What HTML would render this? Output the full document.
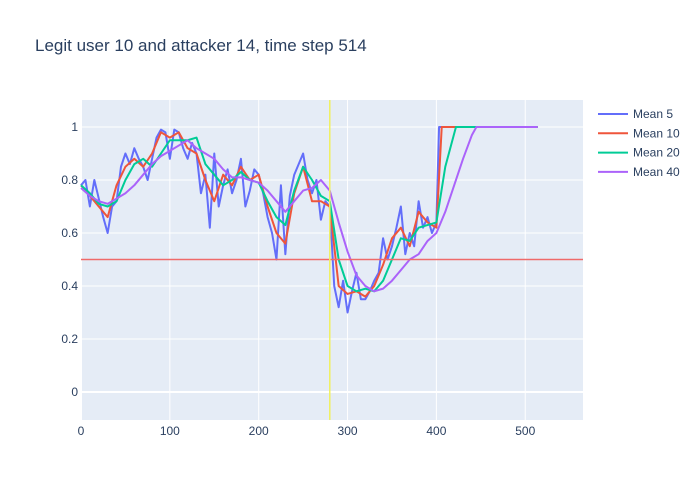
<!DOCTYPE html>
<html><head><meta charset="utf-8"><style>
body{margin:0;background:#fff;font-family:"Liberation Sans",sans-serif}
</style></head><body>
<svg id="chart" width="700" height="500" style="display:block">
<rect width="700" height="500" fill="#fff"/>
<text x="35" y="51" font-size="17" fill="#2a3f5f">Legit user 10 and attacker 14, time step 514</text>
<rect x="81" y="100" width="502" height="320" fill="#e5ecf6"/>
<g id="grid"></g><g id="series"></g><g id="axes"></g><g id="legend"></g>
</svg>
<script>
const xs5=[0,5,10,15,20,25,30,35,40,45,50,55,60,65,70,75,80,85,90,95,100,105,110,115,120,125,130,135,140,145,150,155,160,165,170,175,180,185,190,195,200,205,210,215,220,225,230,235,240,245,250,255,260,265,270,275,280,285,290,295,300,305,310,315,320,325,330,335,340,345,350,355,360,365,370,375,380,385,390,395,400,403,514];
const ys5=[0.78,0.80,0.70,0.80,0.73,0.66,0.60,0.70,0.72,0.85,0.90,0.86,0.92,0.88,0.85,0.80,0.88,0.96,0.99,0.98,0.88,0.99,0.98,0.92,0.88,0.94,0.90,0.75,0.82,0.62,0.90,0.70,0.78,0.84,0.75,0.80,0.88,0.70,0.76,0.84,0.82,0.75,0.66,0.60,0.50,0.78,0.52,0.74,0.82,0.86,0.90,0.80,0.75,0.80,0.65,0.72,0.70,0.40,0.32,0.42,0.30,0.38,0.45,0.35,0.35,0.38,0.42,0.45,0.58,0.50,0.55,0.62,0.70,0.52,0.60,0.55,0.72,0.62,0.66,0.60,0.64,1.0,1.0];
const xs10=[0,10,20,30,40,50,60,70,80,90,100,110,120,130,140,150,160,170,180,190,200,210,220,230,240,250,260,270,280,290,300,310,320,330,340,350,360,370,380,390,400,406,514];
const ys10=[0.78,0.74,0.70,0.66,0.78,0.85,0.88,0.85,0.90,0.98,0.96,0.98,0.92,0.90,0.80,0.72,0.82,0.78,0.85,0.80,0.82,0.70,0.60,0.56,0.75,0.85,0.72,0.72,0.70,0.40,0.37,0.38,0.36,0.40,0.48,0.58,0.62,0.55,0.68,0.64,0.62,1.0,1.0];
const xs20=[0,10,20,30,40,50,60,70,80,90,100,110,120,130,140,150,160,170,180,190,200,210,220,230,240,250,260,270,280,290,300,310,320,330,340,350,360,370,380,390,400,410,422,514];
const ys20=[0.78,0.75,0.71,0.70,0.72,0.80,0.86,0.88,0.85,0.90,0.95,0.95,0.95,0.96,0.86,0.82,0.78,0.80,0.83,0.80,0.79,0.72,0.66,0.63,0.76,0.85,0.80,0.74,0.72,0.50,0.40,0.38,0.39,0.38,0.42,0.50,0.58,0.57,0.62,0.63,0.64,0.85,1.0,1.0];
const xs40=[0,10,20,30,40,50,60,70,80,90,100,110,120,130,140,150,160,170,180,190,200,210,220,230,240,250,260,270,280,290,300,310,320,330,340,350,360,370,380,390,400,410,420,430,440,445,514];
const ys40=[0.77,0.74,0.72,0.71,0.73,0.75,0.78,0.82,0.86,0.89,0.91,0.93,0.95,0.92,0.90,0.88,0.84,0.81,0.81,0.80,0.79,0.76,0.72,0.68,0.72,0.76,0.77,0.80,0.76,0.64,0.53,0.44,0.40,0.38,0.39,0.42,0.46,0.50,0.52,0.57,0.60,0.68,0.78,0.88,0.97,1.0,1.0];
const xTicks=[0,100,200,300,400,500];
const yTicks=[0,0.2,0.4,0.6,0.8,1];
const seriesNames=["Mean 5","Mean 10","Mean 20","Mean 40"];
const colors=["#636efa","#EF553B","#00cc96","#ab63fa"];
const threshold=0.5, attackStep=280;
const X=v=>81+v*0.8885, Y=v=>392-v*265;
const NS="http://www.w3.org/2000/svg";
function mk(t,a,p){const e=document.createElementNS(NS,t);for(const k in a)e.setAttribute(k,a[k]);p.appendChild(e);return e;}
const grid=document.getElementById('grid'),axes=document.getElementById('axes'),ser=document.getElementById('series'),leg=document.getElementById('legend');
xTicks.forEach(t=>{const l=mk('line',{x1:X(t),x2:X(t),y1:100,y2:420,stroke:t===0?'#fff':'#fff','stroke-width':t===0?2:1},grid);

const tx=mk('text',{x:X(t),y:435,'font-size':12,fill:'#2a3f5f','text-anchor':'middle'},axes);tx.textContent=t;
});
yTicks.forEach(t=>{const l=mk('line',{x1:81,x2:583,y1:Y(t),y2:Y(t),stroke:'#fff','stroke-width':t===0?2:1},grid);

const tx=mk('text',{x:78,y:Y(t)+4,'font-size':12,fill:'#2a3f5f','text-anchor':'end'},axes);tx.textContent=t;
});
const data=[[xs5,ys5],[xs10,ys10],[xs20,ys20],[xs40,ys40]];
data.forEach((d,i)=>{const p=mk('polyline',{points:d[0].map((x,j)=>X(x)+','+Y(d[1][j])).join(' '),fill:'none',stroke:colors[i],'stroke-width':2,'stroke-linejoin':'round'},ser);
});
const h=mk('line',{x1:81,x2:583,y1:Y(threshold),y2:Y(threshold),stroke:'#ef6a6a','stroke-width':1.5},ser);

const v=mk('line',{x1:X(attackStep),x2:X(attackStep),y1:100,y2:420,stroke:'#f0f060','stroke-width':1.5},ser);

seriesNames.forEach((n,i)=>{const g=mk('g',{},leg);

const y=114+i*19.3;mk('line',{x1:598,x2:628,y1:y,y2:y,stroke:colors[i],'stroke-width':2},g);
const t=mk('text',{x:633,y:y+4,'font-size':12,fill:'#2a3f5f'},g);t.textContent=n;});
</script>
</body></html>
